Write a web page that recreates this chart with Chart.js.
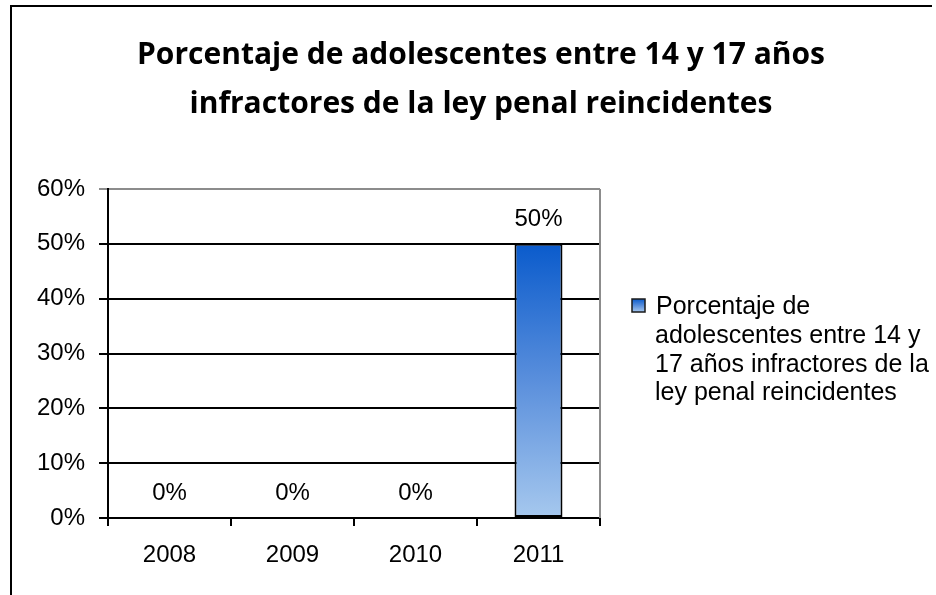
<!DOCTYPE html>
<html>
<head>
<meta charset="utf-8">
<script src="https://cdn.jsdelivr.net/npm/chart.js@4/dist/chart.umd.min.js"></script>
<style>
  html,body{margin:0;padding:0;background:#fff;}
  #wrap{position:relative;width:936px;height:595px;}
</style>
</head>
<body>
<div id="wrap"><canvas id="chart" width="936" height="595"></canvas></div>
<script>
// chart data
const years = ['2008', '2009', '2010', '2011'];
const reincidencia = [0, 0, 0, 0.5];
const seriesName = 'Porcentaje de adolescentes entre 14 y 17 años infractores de la ley penal reincidentes';
const titleLines = ['Porcentaje de adolescentes entre 14 y 17 años', 'infractores de la ley penal reincidentes'];
const legendLines = ['Porcentaje de', 'adolescentes entre 14 y', '17 años infractores de la', 'ley penal reincidentes'];

const ARIAL = '"Liberation Sans", Arial, sans-serif';

function barGradient(ctx, top, bottom){
  const g = ctx.createLinearGradient(0, top, 0, bottom);
  g.addColorStop(0, '#0a5bcc');
  g.addColorStop(0.5, '#5a8fdc');
  g.addColorStop(1, '#a6c8ee');
  return g;
}

const pct = v => Math.round(v * 100) + '%';

// frame + title + grey plot border
const decorPlugin = {
  id: 'decor',
  beforeDraw(chart){
    const c = chart.ctx;
    c.save();
    c.fillStyle = '#fff';
    c.fillRect(0, 0, chart.width, chart.height);
    c.strokeStyle = '#000';
    c.lineWidth = 2;
    c.beginPath();
    c.moveTo(11, 600); c.lineTo(11, 6); c.lineTo(932, 6);
    c.stroke();
    c.restore();
  },
  afterDraw(chart){
    const c = chart.ctx, a = chart.chartArea;
    c.save();
    c.fillStyle = '#000';
    c.font = 'bold 30px "Open Sans", sans-serif';
    c.textAlign = 'center';
    c.textBaseline = 'alphabetic';
    c.fillText(titleLines[0], 481, 64);
    c.fillText(titleLines[1], 481, 113);
    // right border of plot area
    c.strokeStyle = '#8c8c8c';
    c.lineWidth = 2;
    c.beginPath();
    c.moveTo(a.right, a.top); c.lineTo(a.right, a.bottom);
    c.stroke();
    c.restore();
  }
};

// value labels above bars
const valueLabels = {
  id: 'valueLabels',
  afterDatasetsDraw(chart){
    const c = chart.ctx;
    const meta = chart.getDatasetMeta(0);
    c.save();
    c.fillStyle = '#000';
    c.font = '24px ' + ARIAL;
    c.textAlign = 'center';
    c.textBaseline = 'alphabetic';
    meta.data.forEach((bar, i) => {
      c.fillText(pct(reincidencia[i]), bar.x, bar.y - 18);
    });
    c.restore();
  }
};

// legend on the right with wrapped text
const sideLegend = {
  id: 'sideLegend',
  afterDraw(chart){
    const c = chart.ctx;
    c.save();
    c.fillStyle = barGradient(c, 299, 312);
    c.fillRect(632, 299, 13, 13);
    c.strokeStyle = '#1a1a1a';
    c.lineWidth = 1.5;
    c.strokeRect(632, 299, 13, 13);
    c.fillStyle = '#000';
    c.font = '25px ' + ARIAL;
    c.textAlign = 'left';
    c.textBaseline = 'alphabetic';
    legendLines.forEach((t, i) => c.fillText(t, i === 0 ? 656 : 655, 314 + i * 28.8));
    c.restore();
  }
};

new Chart(document.getElementById('chart'), {
  type: 'bar',
  data: {
    labels: years,
    datasets: [{
      label: seriesName,
      data: reincidencia,
      backgroundColor(ctx){
        const ch = ctx.chart;
        if (!ch.chartArea) return '#4a86d8';
        const y = ch.scales.y;
        return barGradient(ch.ctx, y.getPixelForValue(ctx.raw || 0), y.getPixelForValue(0));
      },
      borderColor: '#000',
      borderWidth: 2,
      borderSkipped: false,
      categoryPercentage: 1,
      barPercentage: 0.39
    }]
  },
  options: {
    responsive: false,
    animation: false,
    events: [],
    layout: { padding: { left: 0, top: 189, right: 336, bottom: 0 } },
    plugins: { legend: { display: false }, title: { display: false }, tooltip: { enabled: false } },
    scales: {
      x: {
        afterFit(s){ s.height = 77; },
        grid: { drawOnChartArea: false, drawTicks: true, tickLength: 8, color: '#000', lineWidth: 2 },
        border: { color: '#000', width: 2 },
        ticks: { color: '#000', font: { family: ARIAL, size: 24 }, padding: 15 }
      },
      y: {
        min: 0, max: 0.6,
        afterFit(s){ s.width = 108; },
        grid: {
          color: ctx => (ctx.tick && ctx.tick.value >= 0.6 ? '#8c8c8c' : '#000'),
          lineWidth: 2,
          tickLength: 9
        },
        border: { color: '#000', width: 2 },
        ticks: {
          stepSize: 0.1,
          color: '#000',
          font: { family: ARIAL, size: 24 },
          padding: 14,
          callback: v => pct(v)
        }
      }
    }
  },
  plugins: [decorPlugin, valueLabels, sideLegend]
});
</script>
</body>
</html>
